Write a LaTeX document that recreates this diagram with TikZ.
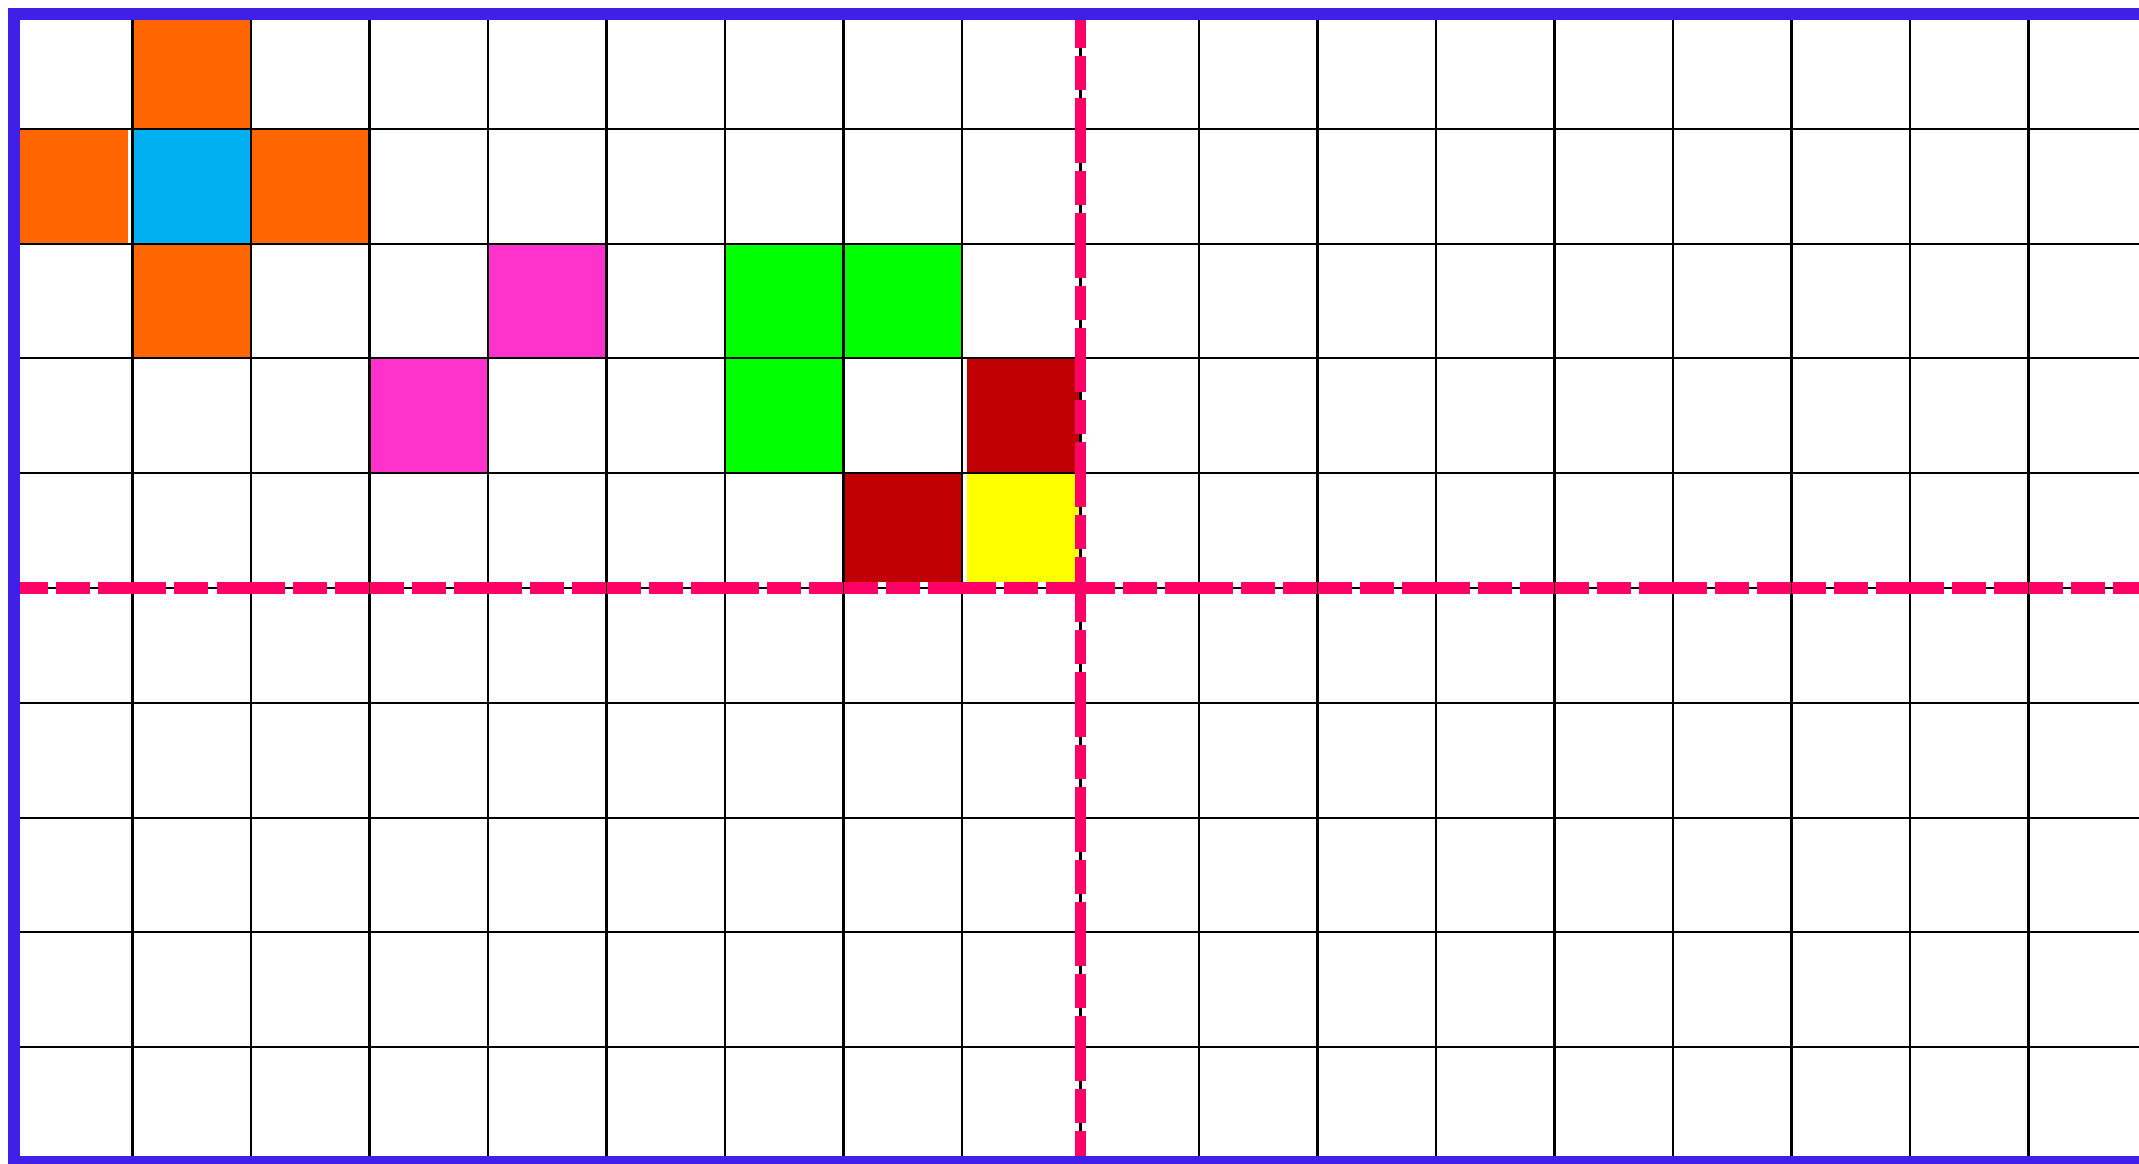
\documentclass[tikz,border=0pt]{standalone}
\definecolor{framecol}{RGB}{64,32,232}
\definecolor{axiscol}{RGB}{255,0,102}
\definecolor{crossorange}{RGB}{255,102,0}
\definecolor{crosscyan}{RGB}{0,176,240}
\definecolor{diagpink}{RGB}{255,51,204}
\definecolor{blockgreen}{RGB}{0,255,0}
\definecolor{blockred}{RGB}{192,0,0}
\definecolor{blockyellow}{RGB}{255,255,0}
\begin{document}
\begin{tikzpicture}[x=1.185cm, y=1.148cm,
    gridline/.style={line width=0.6pt, black},
    axisline/.style={line width=3.3pt, axiscol, dash pattern=on 0.34cm off 0.08cm},
    frameline/.style={line width=3.4pt, framecol}]
    \useasboundingbox (-0.14cm,-0.01cm) rectangle (21.25cm,11.62cm);
    % Cross of cells round the cyan one
    \fill[crossorange] (1,9) rectangle (2,10);
    \fill[crossorange] (0,8) rectangle (0.96,9);
    \fill[crossorange] (2,8) rectangle (3,9);
    \fill[crossorange] (1,7) rectangle (2,8);
    \fill[crosscyan] (1,8) rectangle (2,9);
    % Diagonal pair
    \fill[diagpink] (4,7) rectangle (5,8);
    \fill[diagpink] (3,6) rectangle (4,7);
    % Block of cells near the axes
    \fill[blockgreen] (6,7) rectangle (7,8);
    \fill[blockgreen] (7,7) rectangle (8,8);
    \fill[blockgreen] (6,6) rectangle (7,7);
    \fill[blockred] (8.04,6) rectangle (9,7);
    \fill[blockred] (7,5.05) rectangle (8,6);
    \fill[blockyellow] (8.04,5.05) rectangle (9,6);
    % Grid lines
    \foreach \i in {1,...,17} \draw[gridline] (\i,0) -- (\i,10);
    \foreach \j in {1,...,9} \draw[gridline] (0,\j) -- (18,\j);
    % Dashed axes, one piece per cell
    \foreach \i in {0,...,17} \draw[axisline] (\i,5) -- (\i+1,5);
    \foreach \j in {10,...,1} \draw[axisline] (9,\j) -- (9,\j-1);
    % Frame, open on the right
    \draw[frameline] (18,10) -- (0,10) -- (0,0) -- (18,0);
\end{tikzpicture}
\end{document}
